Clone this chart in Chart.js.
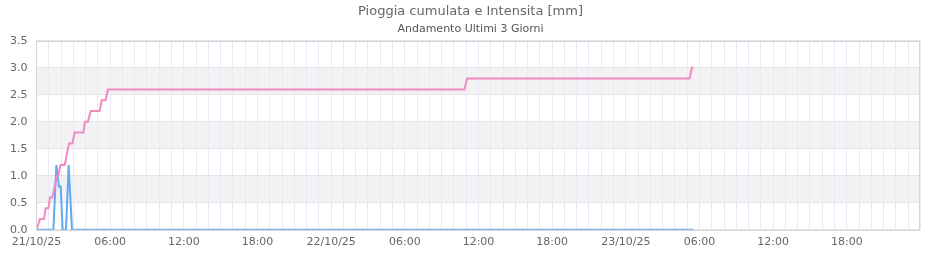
<!DOCTYPE html>
<html>
<head>
<meta charset="utf-8">
<script src="https://cdn.jsdelivr.net/npm/chart.js@4.4.1/dist/chart.umd.min.js"></script>
<style>
  html, body { margin: 0; padding: 0; background: #fff; }
  #wrap { width: 940px; height: 260px; }
</style>
</head>
<body>
<div id="wrap"><canvas id="rainChart"></canvas></div>
<script>
// ore dall'inizio del 21/10/25 00:00
var startDays = ["21/10/25", "22/10/25", "23/10/25"];

var cumHours = [0, 0.285, 0.61, 0.75, 0.97, 1.10, 1.29, 1.48, 1.68, 1.77, 1.95, 2.30, 2.65, 2.92, 3.11, 3.82, 3.95, 4.19, 4.41, 5.14, 5.31, 5.63, 5.82, 34.85, 35.07, 53.19, 53.38, 53.51];
var cumValues = [0, 0.2, 0.2, 0.4, 0.4, 0.6, 0.6, 0.8, 1.0, 1.0, 1.2, 1.2, 1.6, 1.6, 1.8, 1.8, 2.0, 2.0, 2.2, 2.2, 2.4, 2.4, 2.6, 2.6, 2.8, 2.8, 3.0, 3.0];

var intHours = [0, 1.375, 1.62, 1.83, 1.97, 2.13, 2.40, 2.62, 2.89, 53.49];
var intValues = [0, 0, 1.2, 0.8, 0.8, 0, 0, 1.2, 0, 0];

var yTicks = [0, 0.5, 1.0, 1.5, 2.0, 2.5, 3.0, 3.5];

function toPoints(xs, ys) {
    var pts = [];
    for (var i = 0; i < xs.length; i++) {
        pts.push({ x: xs[i], y: ys[i] });
    }
    return pts;
}

// bande alternate grigie e cornice dell'area del grafico
var bandsPlugin = {
    id: 'bands',
    beforeDraw: function (chart) {
        var ctx = chart.ctx, area = chart.chartArea, y = chart.scales.y;
        ctx.save();
        ctx.fillStyle = '#f2f2f2';
        for (var i = 1; i < yTicks.length - 1; i += 2) {
            var top = y.getPixelForValue(yTicks[i + 1]);
            var bottom = y.getPixelForValue(yTicks[i]);
            ctx.fillRect(area.left, top, area.right - area.left, bottom - top);
        }
        ctx.restore();
    },
    afterDraw: function (chart) {
        var ctx = chart.ctx, area = chart.chartArea;
        ctx.save();
        ctx.strokeStyle = '#d6d6d6';
        ctx.lineWidth = 1;
        ctx.strokeRect(Math.round(area.left) + 0.5, Math.round(area.top) + 0.5,
            Math.round(area.right - area.left) - 1, Math.round(area.bottom - area.top));
        ctx.restore();
    }
};

var ctx = document.getElementById('rainChart').getContext('2d');
var rainChart = new Chart(ctx, {
    type: 'line',
    data: {
        datasets: [
            {
                label: 'Pioggia cumulata',
                data: toPoints(cumHours, cumValues),
                borderColor: '#f28ac2',
                borderWidth: 2,
                pointRadius: 0,
                tension: 0
            },
            {
                label: 'Intensita',
                data: toPoints(intHours, intValues),
                borderColor: '#62aaf0',
                borderWidth: 2,
                pointRadius: 0,
                tension: 0
            }
        ]
    },
    options: {
        responsive: true,
        maintainAspectRatio: false,
        animation: false,
        layout: { padding: { left: 1, right: 0, bottom: 5, top: 0 } },
        plugins: {
            legend: { display: false },
            tooltip: { enabled: false },
            title: {
                display: true,
                text: 'Pioggia cumulata e Intensita [mm]',
                color: '#666666',
                font: { family: 'DejaVu Sans', size: 13, weight: 'normal' },
                padding: { top: 4, bottom: 2 }
            },
            subtitle: {
                display: true,
                text: 'Andamento Ultimi 3 Giorni',
                color: '#555555',
                font: { family: 'DejaVu Sans', size: 11, weight: 'normal' },
                padding: { top: 1, bottom: 5 }
            }
        },
        scales: {
            x: {
                type: 'linear',
                min: 0,
                max: 72,
                grid: { color: '#e9e9f8', drawTicks: false },
                border: { display: false },
                ticks: {
                    stepSize: 1,
                    autoSkip: false,
                    maxRotation: 0,
                    padding: 6,
                    color: '#666666',
                    font: { family: 'DejaVu Sans', size: 11 },
                    callback: function (value) {
                        if (value % 6 !== 0 || value >= 72) return '';
                        if (value % 24 === 0) return startDays[value / 24];
                        var h = value % 24;
                        return (h < 10 ? '0' + h : h) + ':00';
                    }
                }
            },
            y: {
                min: 0,
                max: 3.5,
                grid: { color: '#e4e4e4', drawTicks: false },
                border: { display: false },
                afterBuildTicks: function (scale) {
                    scale.ticks = yTicks.map(function (v) { return { value: v }; });
                },
                ticks: {
                    padding: 9,
                    color: '#666666',
                    font: { family: 'DejaVu Sans', size: 11 },
                    callback: function (value) { return value.toFixed(1); }
                }
            },
            // asse vuoto a destra: margine simmetrico per centrare il titolo
            yRight: {
                position: 'right',
                min: 0,
                max: 3.5,
                grid: { display: false, drawTicks: false },
                border: { display: false },
                ticks: { display: false },
                afterFit: function (scale) { scale.width = 19.5; }
            }
        }
    },
    plugins: [bandsPlugin]
});
</script>
</body>
</html>
